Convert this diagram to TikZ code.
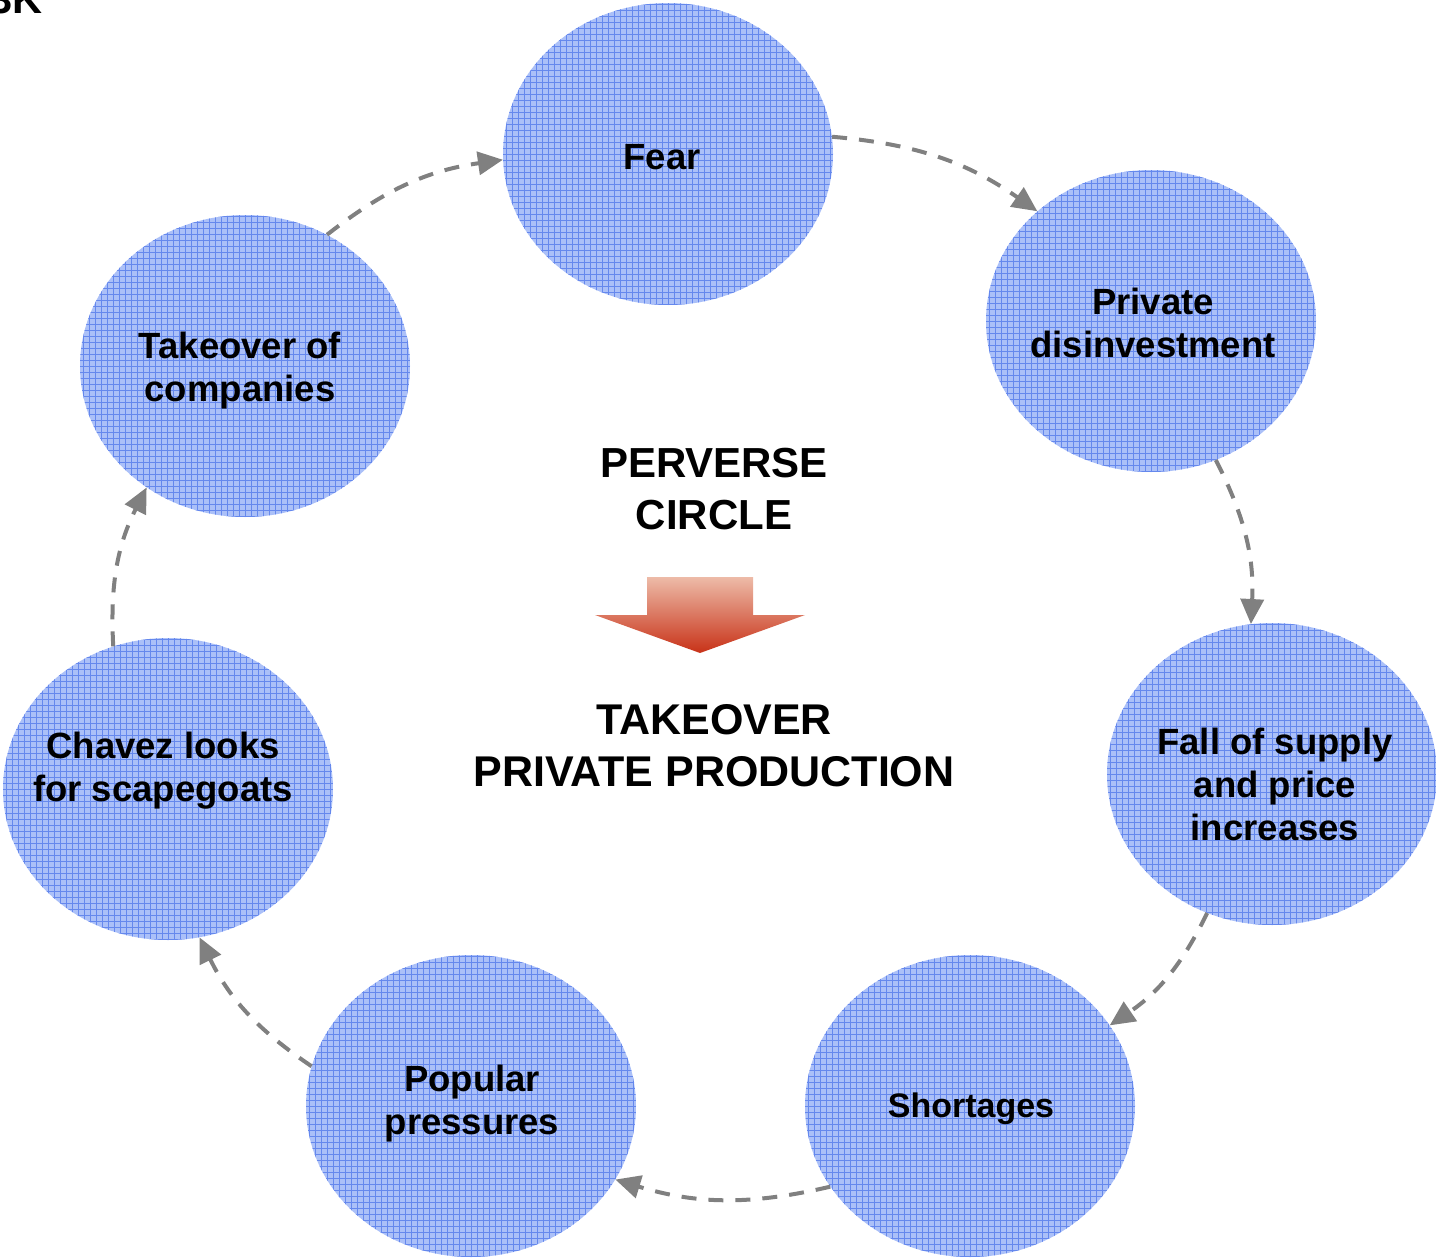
\documentclass[tikz,border=0pt]{standalone}
\usepackage{fontspec}
\setmainfont{Liberation Sans}
\usetikzlibrary{shapes.geometric,arrows.meta}
\definecolor{bubble}{HTML}{ABC0F8}
\definecolor{gridc}{HTML}{6588ED}
\definecolor{conn}{HTML}{808080}
\definecolor{arrtop}{HTML}{EDBBA8}
\definecolor{arrbot}{HTML}{C83218}
\tikzset{
  bubble/.style={ellipse, minimum width=330pt, minimum height=302pt, inner sep=0pt,
    fill=bubble,
    path picture={\draw[gridc, line width=0.9pt, step=6pt]
      (path picture bounding box.south west) grid (path picture bounding box.north east);}},
  btext/.style={align=center, inner sep=0pt, font=\bfseries\fontsize{36.5}{43}\selectfont},
  ctext/.style={align=center, inner sep=0pt, font=\bfseries\fontsize{42}{52}\selectfont},
  conn/.style={draw=conn, line width=4pt, dash pattern=on 15pt off 12pt,
    -{Triangle[length=25pt,width=23pt]}, bend left=15},
}
\begin{document}
\begin{tikzpicture}[x=1pt,y=1pt]
\useasboundingbox (0,0) rectangle (1436,-1258);
% ellipses
\node[bubble] (fear) at (668,-154) {};
\node[bubble] (priv) at (1151,-321) {};
\node[bubble] (fall) at (1272,-774) {};
\node[bubble] (short) at (970,-1106) {};
\node[bubble] (pop) at (471,-1106) {};
\node[bubble] (chav) at (168,-789) {};
\node[bubble] (take) at (245,-366) {};
% texts
\node[btext] (fearT) at (662,-157) {Fear};
\node[btext] (privT) at (1153,-323) {Private\\disinvestment};
\node[btext] (fallT) at (1275,-784) {Fall of supply\\and price\\increases};
\node[btext, font=\bfseries\fontsize{34}{43}\selectfont] (shortT) at (971,-1109) {Shortages};
\node[btext] (popT) at (472,-1104) {Popular\\pressures};
\node[btext] (chavT) at (163,-771) {Chavez looks\\for scapegoats};
\node[btext] (takeT) at (240,-371) {Takeover of\\companies};
\node[ctext] (perv) at (714,-489) {PERVERSE\\CIRCLE};
\node[ctext, font=\bfseries\fontsize{43}{52}\selectfont] (tko) at (714,-746) {TAKEOVER\\PRIVATE PRODUCTION};
\node[anchor=base west, inner sep=0pt, font=\bfseries\fontsize{41.5}{48}\selectfont] (fig) at (-10.5,-13) {3K};
% block arrow
\shade[top color=arrtop, bottom color=arrbot]
  (647,-577) -- (753,-577) -- (753,-615) -- (805,-615) -- (700,-653)
  -- (595,-615) -- (647,-615) -- cycle;
% connectors
\draw[conn] (fear.6.5) to (priv.136.8);
\draw[conn] (priv.-65.6) to (fall.98.6);
\draw[conn] (fall.245.6) to (short.30.2);
\draw[conn] (short.210.8) to (pop.333.9);
\draw[conn] (pop.166.5) to (chav.282.6);
\draw[conn] (chav.111.2) to (take.231.9);
\draw[conn] (take.58) to (fear.182);
\end{tikzpicture}
\end{document}
